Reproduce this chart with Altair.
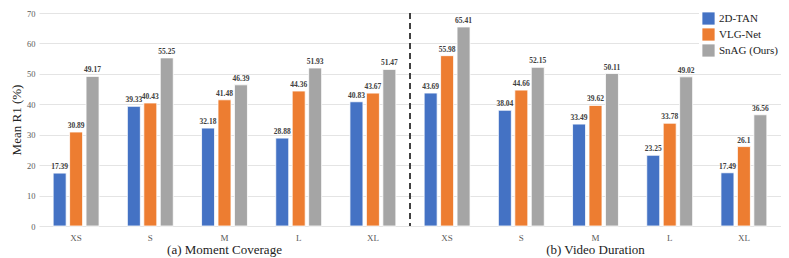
import altair as alt
import pandas as pd

groups = ["a", "b"]
sizes = ["XS", "S", "M", "L", "XL"]
series = ["2D-TAN", "VLG-Net", "SnAG (Ours)"]
colors = ["#4472C4", "#ED7D31", "#A5A5A5"]

moment_cov = {
    "2D-TAN":      ["17.39", "39.33", "32.18", "28.88", "40.83"],
    "VLG-Net":     ["30.89", "40.43", "41.48", "44.36", "43.67"],
    "SnAG (Ours)": ["49.17", "55.25", "46.39", "51.93", "51.47"],
}
video_dur = {
    "2D-TAN":      ["43.69", "38.04", "33.49", "23.25", "17.49"],
    "VLG-Net":     ["55.98", "44.66", "39.62", "33.78", "26.1"],
    "SnAG (Ours)": ["65.41", "52.15", "50.11", "49.02", "36.56"],
}
subtitles = ["(a) Moment Coverage", "(b) Video Duration"]
y_ticks = [0, 10, 20, 30, 40, 50, 60, 70]

rows = []
for g, table in zip(groups, [moment_cov, video_dur]):
    for s in series:
        for sz, v in zip(sizes, table[s]):
            rows.append({"cat": f"{g}-{sz}", "series": s, "value": float(v), "label": v})
df = pd.DataFrame(rows)
cats = [f"{g}-{sz}" for g in groups for sz in sizes]

W, H = 742, 213
FONT = "Liberation Serif"

xenc = alt.X("cat:N", sort=cats, scale=alt.Scale(paddingInner=0, paddingOuter=0),
             axis=alt.Axis(title=None, labelExpr="split(datum.value, '-')[1]", ticks=False,
                           labelAngle=0, labelFont=FONT, labelFontSize=9, labelColor="#595959",
                           labelPadding=7, domain=False, grid=False))
xoff = alt.XOffset("series:N", sort=series, scale=alt.Scale(paddingInner=0.21, paddingOuter=0.86))
yaxis = alt.Axis(title="Mean R1 (%)", values=y_ticks, tickCount=8, labelOverlap=False,
                 titleFont=FONT, titleFontSize=13, titleFontWeight="normal", titleColor="#222",
                 labelFont=FONT, labelFontSize=8.5, labelColor="#595959",
                 ticks=False, domain=False, gridColor="#e4e4e4", labelPadding=4, titlePadding=3)
yenc = alt.Y("value:Q", scale=alt.Scale(domain=[0, 70], nice=False), axis=yaxis)

base = alt.Chart(df)
bars = base.mark_bar(stroke="white", strokeWidth=0.8).encode(
    x=xenc, xOffset=xoff, y=yenc,
    color=alt.Color("series:N", sort=series, scale=alt.Scale(domain=series, range=colors),
                    legend=alt.Legend(title=None, orient="none", legendX=W - 82, legendY=-4,
                                      fillColor="white", padding=3, symbolType="square", symbolSize=150,
                                      symbolStrokeWidth=0, labelFont=FONT, labelFontSize=11,
                                      labelColor="#222", rowPadding=3)),
)
texts = base.mark_text(dy=-6, font=FONT, fontSize=7.5, fontWeight="bold", color="#404040").encode(
    x=xenc, xOffset=xoff, y=yenc, text="label:N"
)

div_df = pd.DataFrame({"cat": ["a-XL"]})
divider = alt.Chart(div_df).mark_rule(color="#404040", strokeDash=[6, 4], strokeWidth=2).encode(
    x=alt.X("cat:N", sort=cats, bandPosition=1), y=alt.value(0), y2=alt.value(H)
)

sub_df = pd.DataFrame({"cat": ["a-M", "b-M"], "text": subtitles})
subs = alt.Chart(sub_df).mark_text(font=FONT, fontSize=13, color="#222", baseline="middle").encode(
    x=alt.X("cat:N", sort=cats, bandPosition=0.5), y=alt.value(H + 24), text="text:N"
)

chart = alt.layer(bars, texts, divider, subs).properties(
    width=W, height=H,
    autosize=alt.AutoSizeParams(type="none"),
    padding={"left": 31, "top": 5, "right": 0, "bottom": 31},
).configure_view(stroke=None)

chart.save("out.html", embed_options={"renderer": "svg", "actions": False})
